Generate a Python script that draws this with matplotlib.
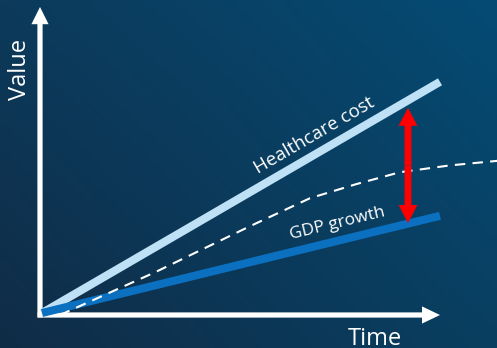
import numpy as np
import matplotlib
matplotlib.use("Agg")
from matplotlib import pyplot as plt
from matplotlib.colors import to_rgb

# Conceptual chart: time on x, value on y (arbitrary units)
hc_time = [0.05, 10.0]
hc_value = [0.05, 5.83]
gdp_time = [0.05, 10.0]
gdp_value = [0.05, 2.48]
trend_time = [0.5, 2.9, 5.25, 6.75, 7.9, 9.0, 10.25, 11.5]
trend_value = [0.0, 1.08, 2.22, 2.92, 3.27, 3.57, 3.74, 3.86]
gap_time = 9.2
gap_low, gap_high = 2.3, 5.18

fig = plt.figure(figsize=(4.97, 3.48), dpi=100)
ax = fig.add_axes([0, 0, 1, 1])
ax.set_xlim(-1.0, 11.425)
ax.set_ylim(-0.825, 7.875)
ax.axis("off")

# Background gradient (bilinear between corner colours)
corners = {"tl": "#0c3a5b", "tr": "#054b74", "bl": "#102c47", "br": "#093f61"}
ny, nx = 60, 80
u = np.linspace(0, 1, nx)[None, :, None]
v = np.linspace(0, 1, ny)[:, None, None]
tl, tr, bl, br = (np.array(to_rgb(corners[k])) for k in ("tl", "tr", "bl", "br"))
grad = (1 - v) * ((1 - u) * tl + u * tr) + v * ((1 - u) * bl + u * br)
ax.imshow(grad, extent=[0, 1, 0, 1], transform=ax.transAxes, aspect="auto",
          interpolation="bilinear", zorder=0)

# Axes as arrows
ax.arrow(0, -0.06, 0, 7.76, width=0.13, head_width=0.43, head_length=0.43,
         length_includes_head=True, color="white", lw=0, zorder=2)
ax.arrow(-0.06, 0, 10.06, 0, width=0.13, head_width=0.43, head_length=0.45,
         length_includes_head=True, color="white", lw=0, zorder=2)

# Series
ax.plot(hc_time, hc_value, color="#bfe1f6", lw=5.8, solid_capstyle="butt", zorder=3)
ax.plot(gdp_time, gdp_value, color="#0b70c0", lw=5.8, solid_capstyle="butt", zorder=3)
ax.plot(trend_time, trend_value, color="white", lw=1.5, dashes=(5, 3.5), zorder=4)

# Red double-headed gap arrow
mid = (gap_low + gap_high) / 2
for end in (gap_low, gap_high):
    ax.arrow(gap_time, mid, 0, end - mid, width=0.17, head_width=0.47, head_length=0.45,
             length_includes_head=True, color="#ff0000", lw=0, zorder=5)

# Labels
font = ["Open Sans", "DejaVu Sans"]
hc_angle = np.degrees(np.arctan2(hc_value[1] - hc_value[0], hc_time[1] - hc_time[0]))
gdp_angle = np.degrees(np.arctan2(gdp_value[1] - gdp_value[0], gdp_time[1] - gdp_time[0]))
ax.text(6.85, 4.48, "Healthcare cost", rotation=hc_angle, rotation_mode="anchor",
        ha="center", va="center", color="white", fontsize=13.5, family=font, zorder=6)
ax.text(7.43, 2.28, "GDP growth", rotation=gdp_angle, rotation_mode="anchor",
        ha="center", va="center", color="white", fontsize=12.5, family=font, zorder=6)
ax.text(8.38, -0.75, "Time", ha="center", va="baseline", color="white",
        fontsize=17, family=font, zorder=6)
ax.text(-0.5, 6.15, "Value", rotation=90, ha="center", va="center", color="white",
        fontsize=17, family=font, zorder=6)

fig.savefig("out.png", dpi=100)
